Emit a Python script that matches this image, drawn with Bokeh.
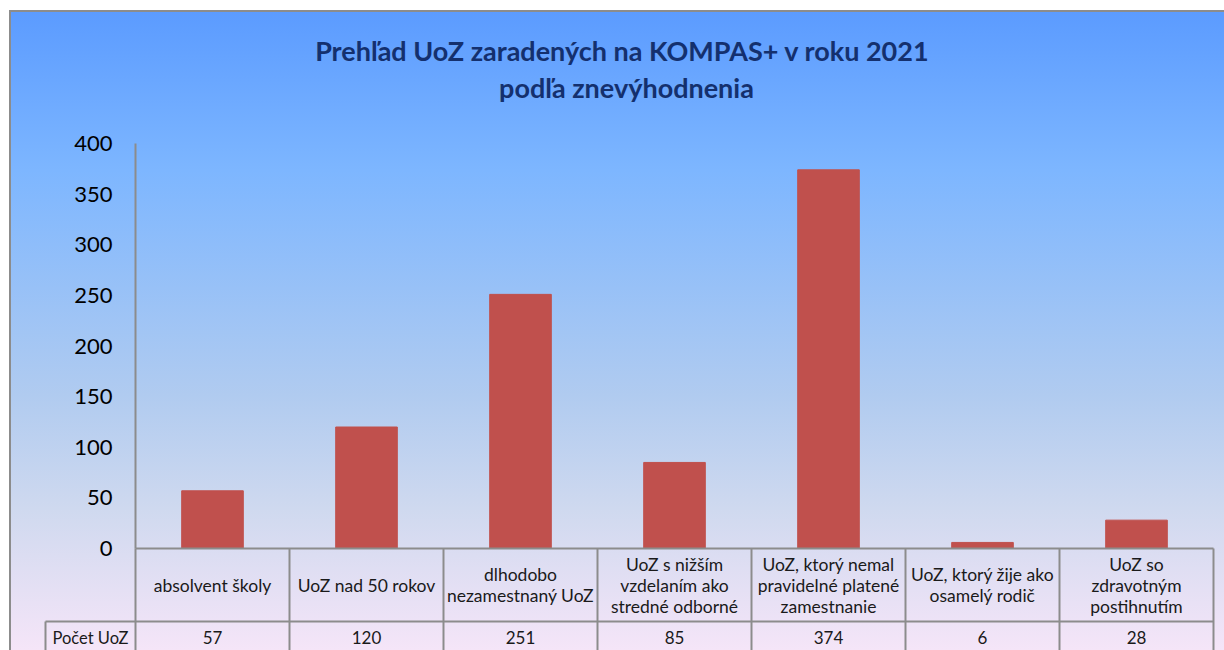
from bokeh.plotting import figure
from bokeh.models import LinearAxis, FixedTicker, Range1d, ColumnDataSource, Label
from bokeh.core.properties import value
from bokeh.embed import file_html
from bokeh.resources import INLINE

# ---- data ----
categories = [
    "absolvent školy",
    "UoZ nad 50 rokov",
    "dlhodobo\nnezamestnaný UoZ",
    "UoZ s nižším\nvzdelaním ako\nstredné odborné",
    "UoZ, ktorý nemal\npravidelné platené\nzamestnanie",
    "UoZ, ktorý žije ako\nosamelý rodič",
    "UoZ so\nzdravotným\npostihnutím",
]
values = [57, 120, 251, 85, 374, 6, 28]
series_name = "Počet UoZ"
y_ticks = [0, 50, 100, 150, 200, 250, 300, 350, 400]
title_lines = ["Prehľad UoZ zaradených na KOMPAS+ v roku 2021", "podľa znevýhodnenia"]

# ---- layout constants (pixel calibration, page coordinates) ----
OX, OY = 9, 10                 # top-left of chart on page
W, H = 1224 - OX, 650 - OY
PX_X = 154.0                   # px per category
PX_Y = 405.0 / 400.0           # px per unit
X0_PX = 135 - OX               # x of category 0 inside figure
Y0_PX = 548 - OY               # y (from top) of value 0 inside figure

x_start = -X0_PX / PX_X
x_end = (W - X0_PX) / PX_X
y_end = Y0_PX / PX_Y
y_start = -(H - Y0_PX) / PX_Y

row_y = -(621 - 548) / PX_Y      # separator between category row and value row
label_left = (45 - 135) / PX_X   # left edge of series-name cell

n = len(categories)
xs = [i + 0.5 for i in range(n)]

FONT = "Lato"
GRID = "#8c8c8c"

p = figure(
    width=W, height=H,
    x_range=Range1d(x_start, x_end), y_range=Range1d(y_start, y_end),
    x_axis_location=None, y_axis_location=None,
    toolbar_location=None, output_backend="svg",
    min_border=0, min_border_left=0, min_border_right=0, min_border_top=0, min_border_bottom=0,
    styles={
        "margin-left": f"{OX}px",
        "margin-top": f"{OY}px",
        "background": "linear-gradient(to bottom, #5b9bff 0%, #7db6ff 25%, #b0cbf0 60%, #cfd9ef 78%, #f5e5f8 100%)",
        "box-shadow": "inset 2px 2px 0 0 #8c8c8c",
    },
)
p.background_fill_alpha = 0
p.border_fill_alpha = 0
p.outline_line_color = None
p.grid.visible = False

# y axis at x = 0
yax = LinearAxis(fixed_location=0, ticker=FixedTicker(ticks=y_ticks), bounds=(0, 400))
yax.axis_line_color = GRID
yax.axis_line_width = 2
yax.major_tick_line_color = None
yax.minor_tick_line_color = None
yax.major_label_text_font = FONT
yax.major_label_text_font_size = "22px"
yax.major_label_text_color = "#000000"
yax.major_label_standoff = 17
p.add_layout(yax, "left")

# bars
src = ColumnDataSource(dict(x=xs, top=values, cat=categories, val=[str(v) for v in values]))
p.vbar(x="x", top="top", width=0.4, source=src, fill_color="#c0504d", line_color="#c0504d")

# table grid
p.segment(x0=[0, label_left], y0=[0, row_y], x1=[n, n], y1=[0, row_y], line_color=GRID, line_width=2)
vx = list(range(n + 1))
p.segment(x0=vx, y0=[0] * len(vx), x1=vx, y1=[y_start] * len(vx), line_color=GRID, line_width=2)
p.segment(x0=[label_left], y0=[row_y], x1=[label_left], y1=[y_start], line_color=GRID, line_width=2)

# table texts
p.text(x="x", y=row_y / 2, text="cat", source=src, text_align="center", text_baseline="middle",
       text_font=value(FONT), text_font_size="17.5px", text_color="#1a1a1a", text_line_height=1.0)
val_y = -(637 - 548) / PX_Y
p.text(x="x", y=val_y, text="val", source=src, text_align="center", text_baseline="middle",
       text_font=value(FONT), text_font_size="17px", text_color="#1a1a1a")
p.add_layout(Label(x=label_left / 2, y=val_y, text=series_name, text_align="center",
                   text_baseline="middle", text_font=FONT, text_font_size="16.5px", text_color="#1a1a1a"))

# title
for line, cx, cy in zip(title_lines, [622, 626], [50, 87]):
    p.add_layout(Label(x=(cx - 135) / PX_X, y=(548 - cy) / PX_Y, text=line, text_align="center",
                       text_baseline="middle", text_font=FONT, text_font_size="27px",
                       text_font_style="bold", text_color="#14306e"))

open("out.html", "w").write(file_html(p, INLINE))
